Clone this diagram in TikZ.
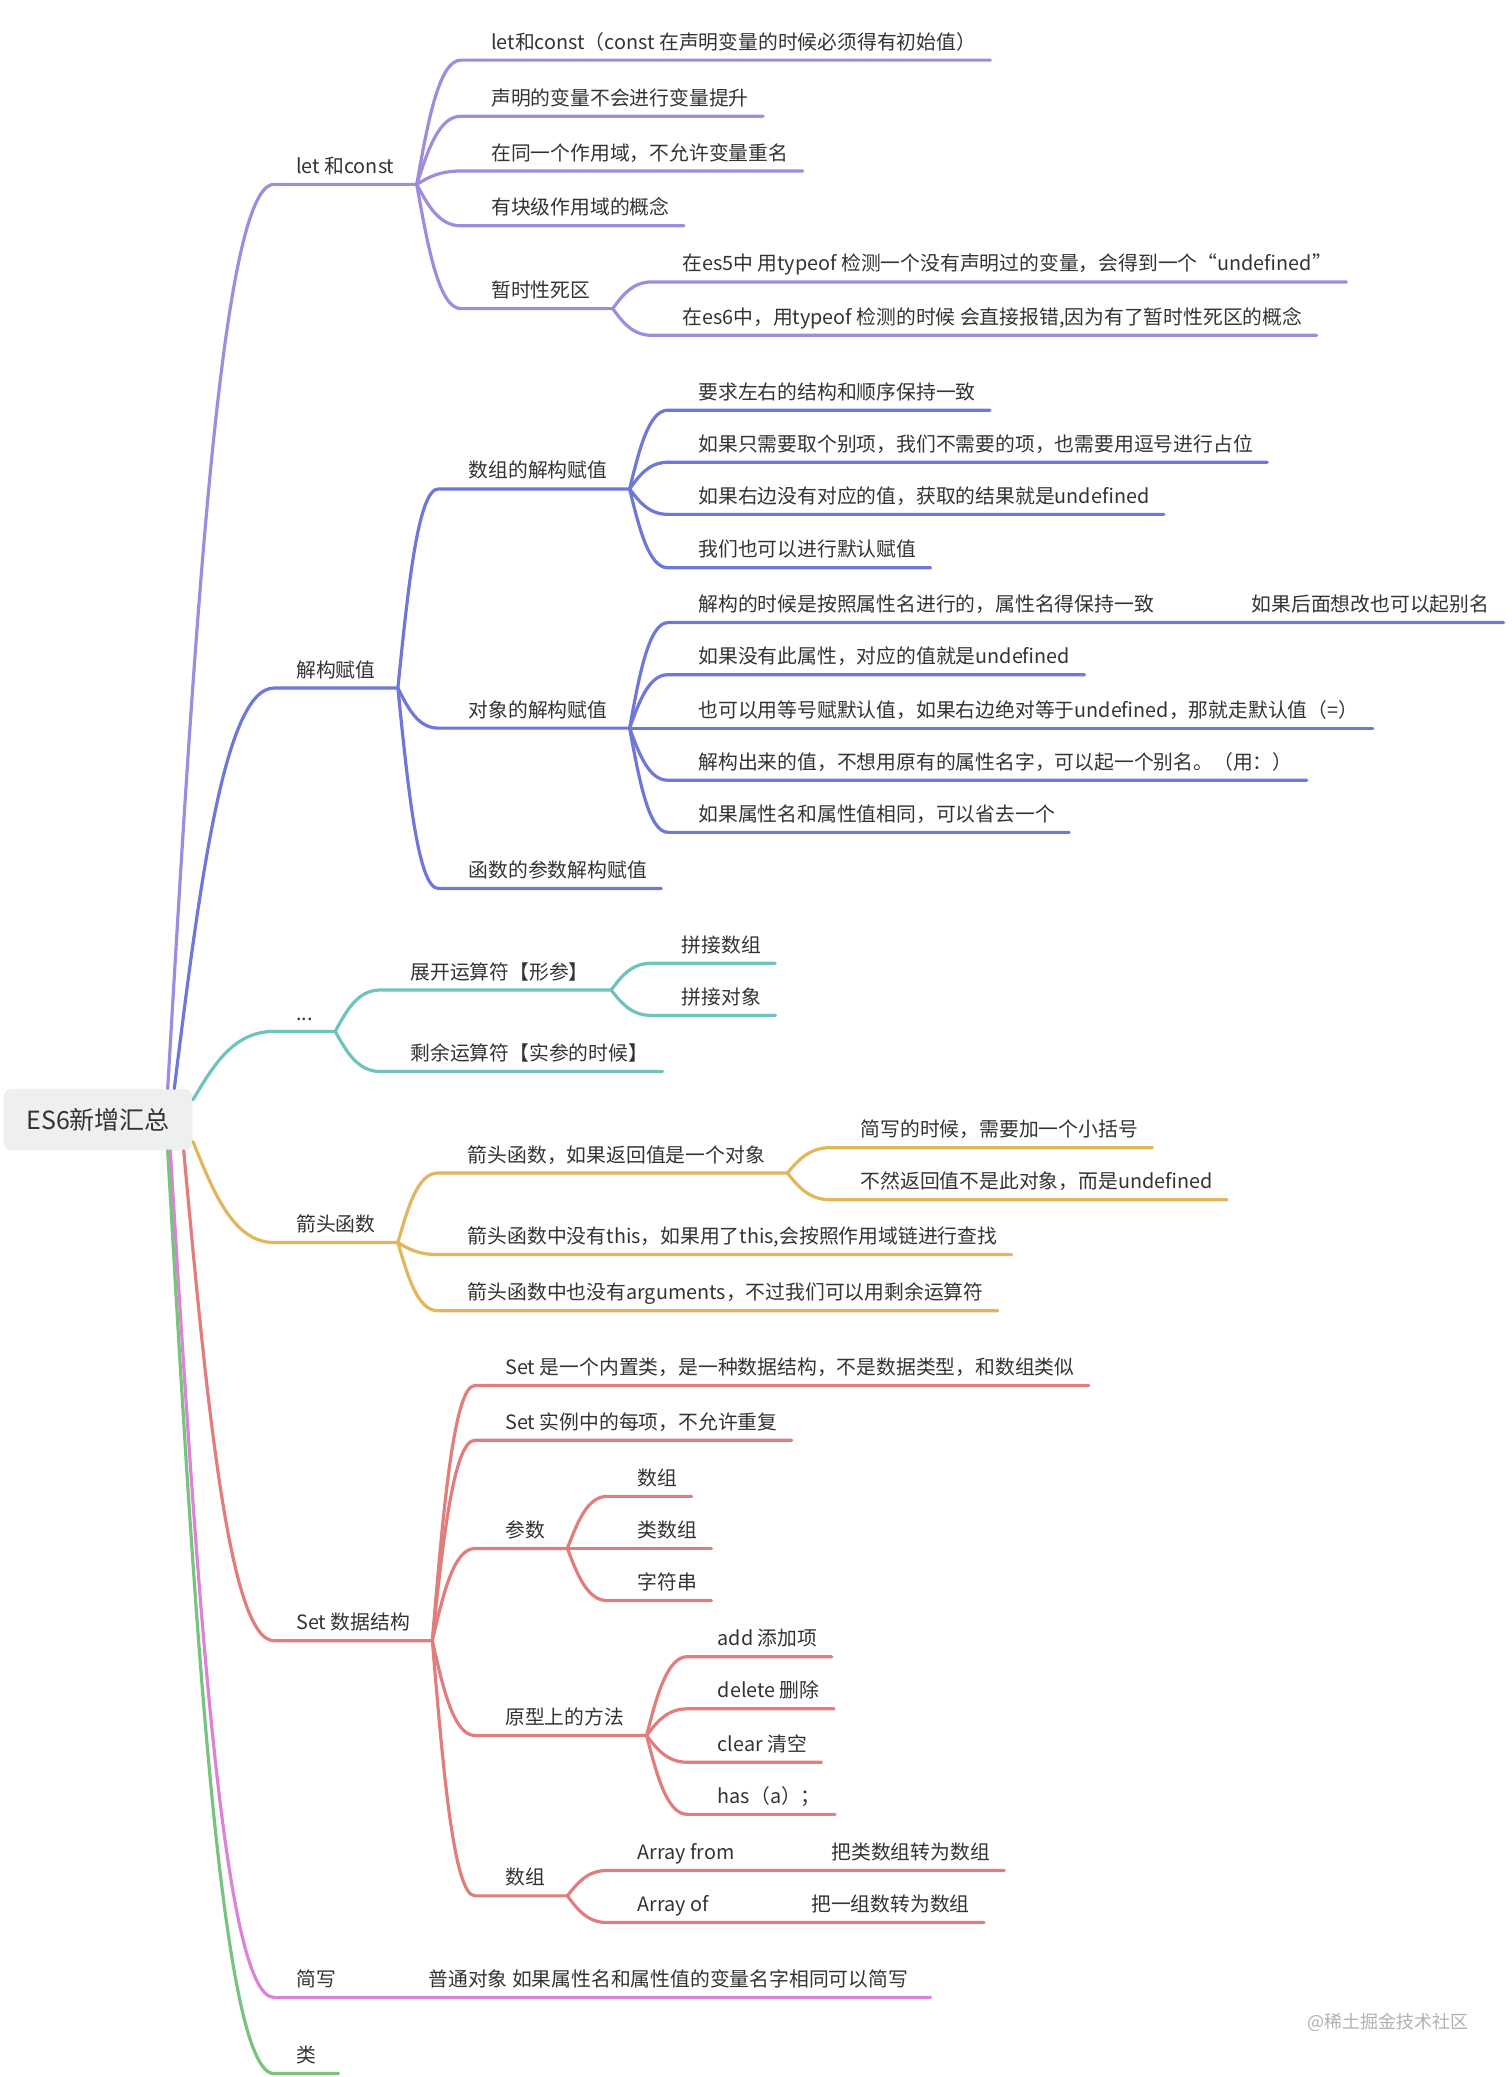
\documentclass[tikz,border=0pt]{standalone}
\usepackage{fontspec}
\setmainfont{Noto Sans CJK SC}
\usetikzlibrary{calc}
\definecolor{txtgray}{RGB}{51,51,51}
\definecolor{rootgray}{RGB}{238,239,239}
\definecolor{markgray}{RGB}{176,176,176}
\definecolor{cpurple}{RGB}{160,140,220}
\definecolor{cblue}{RGB}{110,120,215}
\definecolor{cteal}{RGB}{110,195,190}
\definecolor{cyellow}{RGB}{225,182,92}
\definecolor{cred}{RGB}{225,125,125}
\definecolor{cpink}{RGB}{220,130,215}
\definecolor{cgreen}{RGB}{120,195,125}
\tikzset{
	item/.style 2 args={anchor=south west, inner xsep=0pt, inner ysep=5.3pt, text depth=0pt, text=txtgray,
		font=\fontsize{9.9}{12}\selectfont,
		execute at begin node={\hspace*{#1}}, execute at end node={\hspace*{#2}}},
	lvone/.style={item={11pt}{11pt}},
	midnode/.style={item={15pt}{11pt}},
	leaf/.style={item={15pt}{7pt}},
	rootbox/.style={fill=rootgray, rounded corners=4pt, minimum width=94.5pt, minimum height=30.7pt,
		text=txtgray, font=\fontsize{12.5}{15}\selectfont},
	branch/.style={to path={let \p1=(\tikztostart), \p2=(\tikztotarget) in
		.. controls ({\x1+0.25*(\x2-\x1)},{\y1+0.5*(\y2-\y1)}) and ({\x1+0.5*(\x2-\x1)},\y2) .. (\tikztotarget)}}
}
\tikzset{
	lnpurple/.style={draw=cpurple, line width=1.6pt, line cap=round},
	lnblue/.style={draw=cblue, line width=1.6pt, line cap=round},
	lnteal/.style={draw=cteal, line width=1.6pt, line cap=round},
	lnyellow/.style={draw=cyellow, line width=1.6pt, line cap=round},
	lnred/.style={draw=cred, line width=1.6pt, line cap=round},
	lnpink/.style={draw=cpink, line width=1.6pt, line cap=round},
	lngreen/.style={draw=cgreen, line width=1.6pt, line cap=round}
}

\begin{document}
\begin{tikzpicture}[x=0.668pt, y=-0.668pt]
		\useasboundingbox (0,0) rectangle (1131.7,1554.6);

		% root
		\node[rootbox] at (73.5,838) (root) {ES6新增汇总};

		% let and const
		\node[lvone] at (205,138) (let) {let 和const};
		\node[leaf] at (345,45) (lc1) {let和const（const 在声明变量的时候必须得有初始值）};
		\node[leaf] at (345,87) (lc2) {声明的变量不会进行变量提升};
		\node[leaf] at (345,128) (lc3) {在同一个作用域，不允许变量重名};
		\node[leaf] at (345,169) (lc4) {有块级作用域的概念};
		\node[midnode] at (345,231) (tdz) {暂时性死区};
		\node[leaf] at (488,211) (tdz1) {在es5中 用typeof 检测一个没有声明过的变量，会得到一个“undefined”};
		\node[leaf] at (488,251) (tdz2) {在es6中，用typeof 检测的时候 会直接报错,因为有了暂时性死区的概念};

		\draw[lnpurple] ([xshift=-12.7pt]root.north east) to[branch] (let.south west) -- (let.south east);
		\draw[lnpurple] (let.south east) to[branch] (lc1.south west) -- (lc1.south east);
		\draw[lnpurple] (let.south east) to[branch] (lc2.south west) -- (lc2.south east);
		\draw[lnpurple] (let.south east) to[branch] (lc3.south west) -- (lc3.south east);
		\draw[lnpurple] (let.south east) to[branch] (lc4.south west) -- (lc4.south east);
		\draw[lnpurple] (let.south east) to[branch] (tdz.south west) -- (tdz.south east);
		\draw[lnpurple] (tdz.south east) to[branch] (tdz1.south west) -- (tdz1.south east);
		\draw[lnpurple] (tdz.south east) to[branch] (tdz2.south west) -- (tdz2.south east);

		% destructuring
		\node[lvone] at (205,515) (destr) {解构赋值};
		\node[midnode] at (328,366) (arr) {数组的解构赋值};
		\node[leaf] at (500,307) (arr1) {要求左右的结构和顺序保持一致};
		\node[leaf] at (500,346) (arr2) {如果只需要取个别项，我们不需要的项，也需要用逗号进行占位};
		\node[leaf] at (500,385) (arr3) {如果右边没有对应的值，获取的结果就是undefined};
		\node[leaf] at (500,425) (arr4) {我们也可以进行默认赋值};
		\node[midnode] at (328,545) (obj) {对象的解构赋值};
		\node[leaf] at (500,466) (obj1) {\makebox[276.6pt][l]{解构的时候是按照属性名进行的，属性名得保持一致}如果后面想改也可以起别名};
		\node[leaf] at (500,505) (obj2) {如果没有此属性，对应的值就是undefined};
		\node[leaf] at (500,545) (obj3) {也可以用等号赋默认值，如果右边绝对等于undefined，那就走默认值（=）};
		\node[leaf] at (500,584) (obj4) {解构出来的值，不想用原有的属性名字，可以起一个别名。（用：）};
		\node[leaf] at (500,623) (obj5) {如果属性名和属性值相同，可以省去一个};
		\node[leaf] at (328,665) (fnarg) {函数的参数解构赋值};

		\draw[lnblue] ([xshift=-9.4pt]root.north east) to[branch] (destr.south west) -- (destr.south east);
		\draw[lnblue] (destr.south east) to[branch] (arr.south west) -- (arr.south east);
		\draw[lnblue] (destr.south east) to[branch] (obj.south west) -- (obj.south east);
		\draw[lnblue] (destr.south east) to[branch] (fnarg.south west) -- (fnarg.south east);
		\draw[lnblue] (arr.south east) to[branch] (arr1.south west) -- (arr1.south east);
		\draw[lnblue] (arr.south east) to[branch] (arr2.south west) -- (arr2.south east);
		\draw[lnblue] (arr.south east) to[branch] (arr3.south west) -- (arr3.south east);
		\draw[lnblue] (arr.south east) to[branch] (arr4.south west) -- (arr4.south east);
		\draw[lnblue] (obj.south east) to[branch] (obj1.south west) -- (obj1.south east);
		\draw[lnblue] (obj.south east) to[branch] (obj2.south west) -- (obj2.south east);
		\draw[lnblue] (obj.south east) to[branch] (obj3.south west) -- (obj3.south east);
		\draw[lnblue] (obj.south east) to[branch] (obj4.south west) -- (obj4.south east);
		\draw[lnblue] (obj.south east) to[branch] (obj5.south west) -- (obj5.south east);

		% spread
		\node[lvone] at (205,772) (spread) {...};
		\node[midnode] at (284.5,741) (sp1) {展开运算符【形参】};
		\node[leaf] at (487.5,721) (sp1a) {拼接数组};
		\node[leaf] at (487.5,760) (sp1b) {拼接对象};
		\node[leaf] at (284.5,802) (sp2) {剩余运算符【实参的时候】};

		\draw[lnteal] ([yshift=10pt]root.east) to[branch] (spread.south west) -- (spread.south east);
		\draw[lnteal] (spread.south east) to[branch] (sp1.south west) -- (sp1.south east);
		\draw[lnteal] (spread.south east) to[branch] (sp2.south west) -- (sp2.south east);
		\draw[lnteal] (sp1.south east) to[branch] (sp1a.south west) -- (sp1a.south east);
		\draw[lnteal] (sp1.south east) to[branch] (sp1b.south west) -- (sp1b.south east);

		% arrow functions
		\node[lvone] at (205,930) (arrow) {箭头函数};
		\node[midnode] at (327.5,878) (ar1) {箭头函数，如果返回值是一个对象};
		\node[leaf] at (621.5,859) (ar1a) {简写的时候，需要加一个小括号};
		\node[leaf] at (621.5,898) (ar1b) {不然返回值不是此对象，而是undefined};
		\node[leaf] at (327.5,939) (ar2) {箭头函数中没有this，如果用了this,会按照作用域链进行查找};
		\node[leaf] at (327.5,981) (ar3) {箭头函数中也没有arguments，不过我们可以用剩余运算符};

		\draw[lnyellow] ([yshift=-11pt]root.east) to[branch] (arrow.south west) -- (arrow.south east);
		\draw[lnyellow] (arrow.south east) to[branch] (ar1.south west) -- (ar1.south east);
		\draw[lnyellow] (arrow.south east) to[branch] (ar2.south west) -- (ar2.south east);
		\draw[lnyellow] (arrow.south east) to[branch] (ar3.south west) -- (ar3.south east);
		\draw[lnyellow] (ar1.south east) to[branch] (ar1a.south west) -- (ar1a.south east);
		\draw[lnyellow] (ar1.south east) to[branch] (ar1b.south west) -- (ar1b.south east);

		% set
		\node[lvone] at (205,1228) (set) {Set 数据结构};
		\node[leaf] at (355.5,1037) (st1) {Set 是一个内置类，是一种数据结构，不是数据类型，和数组类似};
		\node[leaf] at (355.5,1078) (st2) {Set 实例中的每项，不允许重复};
		\node[midnode] at (355.5,1159) (prm) {参数};
		\node[leaf] at (454.5,1120) (prm1) {数组};
		\node[leaf] at (454.5,1159) (prm2) {类数组};
		\node[leaf] at (454.5,1198) (prm3) {字符串};
		\node[midnode] at (355.5,1299) (proto) {原型上的方法};
		\node[leaf] at (514.5,1240) (pr1) {add 添加项};
		\node[leaf] at (514.5,1279) (pr2) {delete 删除};
		\node[leaf] at (514.5,1319) (pr3) {clear 清空};
		\node[leaf] at (514.5,1358) (pr4) {has（a）；};
		\node[midnode] at (355.5,1419) (sarr) {数组};
		\node[leaf] at (454.5,1400) (sa1) {\makebox[96.9pt][l]{Array from}把类数组转为数组};
		\node[leaf] at (454.5,1439) (sa2) {\makebox[86.8pt][l]{Array of}把一组数转为数组};

		\draw[lnred] ([xshift=-4.7pt]root.south east) to[branch] (set.south west) -- (set.south east);
		\draw[lnred] (set.south east) to[branch] (st1.south west) -- (st1.south east);
		\draw[lnred] (set.south east) to[branch] (st2.south west) -- (st2.south east);
		\draw[lnred] (set.south east) to[branch] (prm.south west) -- (prm.south east);
		\draw[lnred] (set.south east) to[branch] (proto.south west) -- (proto.south east);
		\draw[lnred] (set.south east) to[branch] (sarr.south west) -- (sarr.south east);
		\draw[lnred] (prm.south east) to[branch] (prm1.south west) -- (prm1.south east);
		\draw[lnred] (prm.south east) to[branch] (prm2.south west) -- (prm2.south east);
		\draw[lnred] (prm.south east) to[branch] (prm3.south west) -- (prm3.south east);
		\draw[lnred] (proto.south east) to[branch] (pr1.south west) -- (pr1.south east);
		\draw[lnred] (proto.south east) to[branch] (pr2.south west) -- (pr2.south east);
		\draw[lnred] (proto.south east) to[branch] (pr3.south west) -- (pr3.south east);
		\draw[lnred] (proto.south east) to[branch] (pr4.south west) -- (pr4.south east);
		\draw[lnred] (sarr.south east) to[branch] (sa1.south west) -- (sa1.south east);
		\draw[lnred] (sarr.south east) to[branch] (sa2.south west) -- (sa2.south east);

		% shorthand and class
		\node[lvone] at (205,1495) (short) {\makebox[66.1pt][l]{简写}普通对象 如果属性名和属性值的变量名字相同可以简写};
		\node[lvone] at (205,1552) (cls) {类};

		\draw[lnpink] ([xshift=-11.4pt]root.south east) to[branch] (short.south west) -- (short.south east);
		\draw[lngreen] ([xshift=-12.7pt]root.south east) to[branch] (cls.south west) -- (cls.south east);

		\node[anchor=west, text=markgray, font=\fontsize{9}{11}\selectfont, inner sep=0pt] at (978,1513.5) (mark) {@稀土掘金技术社区};
\end{tikzpicture}
\end{document}
